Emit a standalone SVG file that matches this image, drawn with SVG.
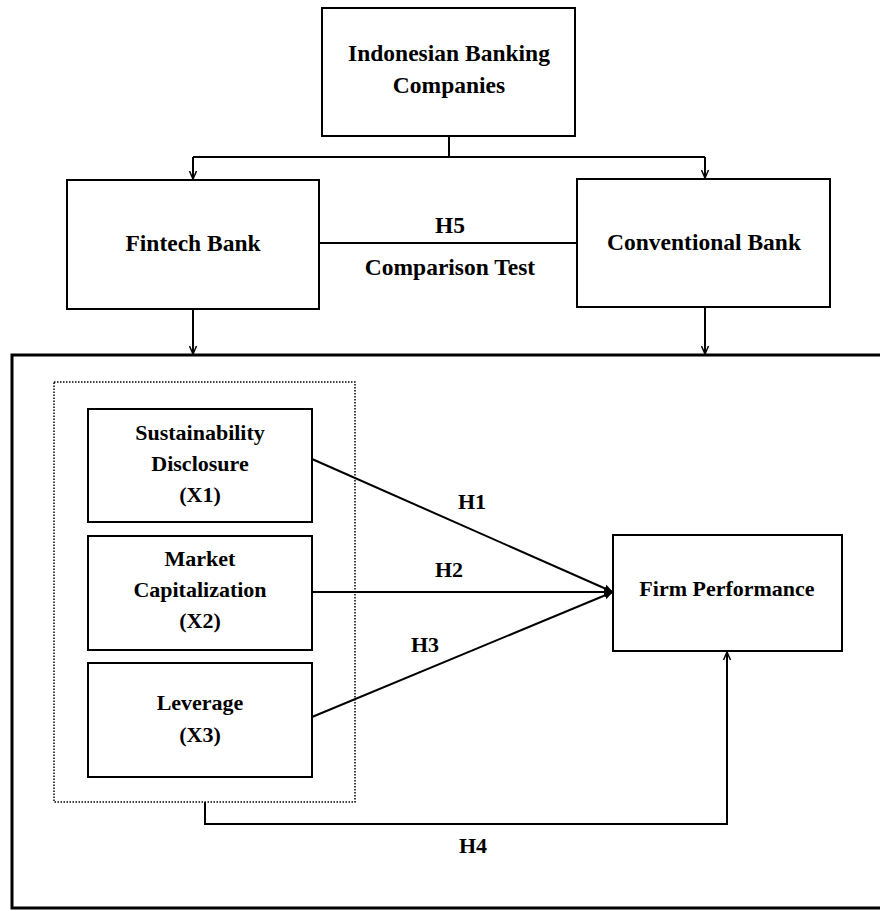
<svg xmlns="http://www.w3.org/2000/svg" width="880" height="911" viewBox="0 0 880 911">
<defs>
<marker id="arr" markerWidth="10" markerHeight="10" refX="9" refY="5" orient="auto" markerUnits="userSpaceOnUse">
<path d="M1,1.5 L9,5 L1,8.5" fill="none" stroke="#000" stroke-width="1.5"/>
</marker>
<marker id="arrf" markerWidth="10" markerHeight="10" refX="9" refY="5" orient="auto" markerUnits="userSpaceOnUse">
<path d="M0,1 L9,5 L0,9 Z" fill="#000"/>
</marker>
</defs>
<style>
.box{fill:#fff;stroke:#000;stroke-width:2}
.t{font-family:"Liberation Serif","Times New Roman",serif;font-weight:bold;font-size:22px;fill:#000;text-anchor:middle}
.l{font-size:23.5px}
.c{fill:none;stroke:#000;stroke-width:2}
</style>
<rect width="880" height="911" fill="#fff"/>
<g id="frame">
<rect x="12" y="355" width="880" height="553" fill="none" stroke="#000" stroke-width="3"/>
<rect x="54" y="382" width="301" height="420" fill="none" stroke="#000" stroke-width="1.5" stroke-dasharray="1.5,1.5"/>
</g>
<g id="connectors">
<path class="c" d="M449,136 V157 M193,157 H705"/>
<path class="c" d="M193,157 V179" marker-end="url(#arr)"/>
<path class="c" d="M705,157 V178" marker-end="url(#arr)"/>
<path class="c" d="M319,243 H577"/>
<path class="c" d="M193,309 V354" marker-end="url(#arr)"/>
<path class="c" d="M705,307 V354" marker-end="url(#arr)"/>
<path class="c" d="M312,459 L613,592" marker-end="url(#arrf)"/>
<path class="c" d="M312,592 L613,592" marker-end="url(#arrf)"/>
<path class="c" d="M312,717 L613,592" marker-end="url(#arrf)"/>
<path class="c" d="M205,802 V824 H727 V652" marker-end="url(#arr)"/>
<text class="t l" x="450" y="233">H5</text>
<text class="t l" x="450" y="275">Comparison Test</text>
<text class="t" x="472" y="509">H1</text>
<text class="t" x="449" y="577">H2</text>
<text class="t" x="425" y="652">H3</text>
<text class="t" x="473" y="853">H4</text>
</g>
<g id="indonesian">
<rect class="box" x="322" y="8" width="253" height="128"/>
<text class="t l" x="449" y="61">Indonesian Banking</text>
<text class="t l" x="449" y="93">Companies</text>
</g>
<g id="fintech">
<rect class="box" x="67" y="180" width="252" height="129"/>
<text class="t l" x="193" y="251">Fintech Bank</text>
</g>
<g id="conventional">
<rect class="box" x="577" y="179" width="253" height="128"/>
<text class="t l" x="704" y="250">Conventional Bank</text>
</g>
<g id="x1">
<rect class="box" x="88" y="409" width="224" height="113"/>
<text class="t" x="200" y="440">Sustainability</text>
<text class="t" x="200" y="471">Disclosure</text>
<text class="t" x="200" y="502">(X1)</text>
</g>
<g id="x2">
<rect class="box" x="88" y="536" width="224" height="114"/>
<text class="t" x="200" y="566">Market</text>
<text class="t" x="200" y="597">Capitalization</text>
<text class="t" x="200" y="628">(X2)</text>
</g>
<g id="x3">
<rect class="box" x="88" y="663" width="224" height="114"/>
<text class="t" x="200" y="710">Leverage</text>
<text class="t" x="200" y="742">(X3)</text>
</g>
<g id="firm">
<rect class="box" x="613" y="535" width="229" height="116" stroke-width="2.5"/>
<text class="t" x="727" y="596">Firm Performance</text>
</g>
</svg>
